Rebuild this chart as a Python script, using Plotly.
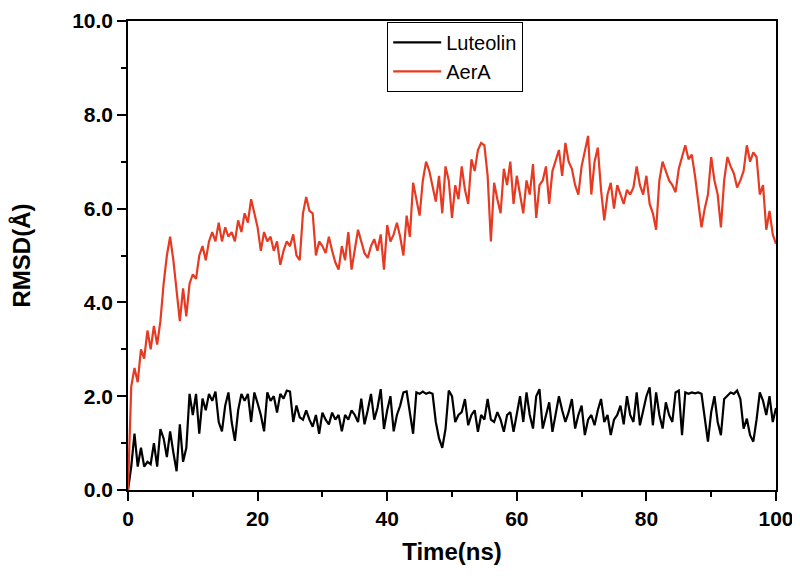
import numpy as np
import plotly.graph_objects as go

# RMSD values, one every 0.5 ns from 0 to 100 ns
aera_rmsd = [
    0.0, 2.2, 2.6, 2.3, 3.0, 2.8, 3.4, 3.0, 3.5, 3.1,
    3.6, 4.4, 5.0, 5.4, 4.9, 4.2, 3.6, 4.3, 3.7, 4.4,
    4.6, 4.5, 5.0, 5.2, 4.9, 5.3, 5.5, 5.3, 5.7, 5.3,
    5.6, 5.4, 5.5, 5.3, 5.75, 5.5, 5.9, 5.7, 6.2, 5.9,
    5.6, 5.1, 5.5, 5.3, 5.4, 5.1, 5.3, 4.8, 5.1, 5.3,
    5.2, 5.45, 5.0, 4.9, 5.9, 6.25, 5.95, 5.9, 5.0, 5.3,
    5.2, 5.05, 5.4, 5.1, 4.85, 4.7, 5.2, 4.9, 5.5, 4.7,
    5.1, 5.55, 5.3, 5.05, 4.95, 5.2, 5.35, 5.1, 5.45, 4.7,
    5.65, 5.3, 5.45, 5.7, 5.4, 5.0, 5.85, 5.4, 6.55, 6.2,
    5.85, 6.6, 7.0, 6.8, 6.5, 6.15, 6.7, 5.9, 6.9, 6.6,
    5.8, 6.5, 6.2, 6.9, 6.4, 6.1, 7.05, 6.8, 7.25, 7.4,
    7.35, 6.7, 5.3, 6.55, 6.2, 5.9, 6.85, 6.5, 7.0, 6.1,
    6.7, 6.3, 5.9, 6.6, 6.3, 6.95, 5.8, 6.5, 6.6, 6.9,
    6.1, 6.8, 7.05, 7.25, 6.7, 7.4, 7.0, 6.85, 6.5, 6.3,
    6.9, 7.2, 7.55, 6.3, 7.0, 7.3, 6.4, 5.75, 6.3, 6.55,
    6.0, 6.5, 6.3, 6.1, 6.4, 6.3, 6.45, 6.9, 6.5, 6.3,
    6.7, 6.1, 5.9, 5.55, 6.6, 7.0, 6.8, 6.6, 6.5, 6.35,
    6.85, 7.1, 7.35, 7.05, 7.15, 6.7, 6.2, 5.6, 6.0, 6.3,
    7.1, 6.6, 6.3, 5.6, 6.6, 7.1, 6.9, 6.75, 6.45, 6.6,
    6.8, 7.35, 7.0, 7.2, 7.1, 6.3, 6.5, 5.55, 5.95, 5.45,
    5.25,
]

luteolin_rmsd = [
    0.0, 0.5, 1.2, 0.5, 0.9, 0.5, 0.6, 0.55, 1.0, 0.5,
    1.3, 1.1, 0.7, 1.25, 0.8, 0.4, 1.4, 0.6, 0.9, 2.05,
    1.6, 2.05, 1.2, 1.95, 1.7, 2.05, 1.9, 2.1, 1.45, 1.25,
    1.8, 2.08, 1.45, 1.05, 1.7, 2.05, 1.9, 2.05, 1.45, 2.08,
    1.85, 1.6, 1.25, 2.08, 1.9, 2.0, 1.65, 2.05, 1.95, 2.12,
    2.1, 1.45, 1.8, 1.55, 1.5, 1.7, 1.5, 1.35, 1.6, 1.2,
    1.65, 1.5, 1.4, 1.65, 1.5, 1.6, 1.25, 1.6, 1.5, 1.7,
    1.6, 1.45, 1.95, 1.4, 1.7, 2.05, 1.5, 1.75, 2.15, 1.3,
    1.7, 2.0, 1.25, 1.6, 1.8, 2.08, 2.1, 1.6, 1.2, 2.08,
    2.05, 2.1, 2.05, 2.08, 2.05, 1.45, 1.1, 0.9, 1.3, 2.12,
    2.0, 1.45, 1.6, 1.66, 1.94, 1.38, 1.6, 1.7, 1.24, 1.6,
    1.5, 1.94, 1.5, 1.45, 1.66, 1.5, 1.24, 1.6, 1.66, 1.24,
    1.6, 2.0, 1.45, 2.08, 1.6, 1.31, 2.0, 2.15, 1.31, 1.6,
    1.87, 1.24, 1.6, 2.0, 1.7, 1.45, 1.66, 1.94, 1.31, 1.6,
    1.8, 1.17, 1.5, 1.6, 1.38, 1.7, 1.94, 1.45, 1.6, 1.17,
    1.5, 1.6, 1.8, 1.4, 2.0, 1.6, 1.45, 2.08, 1.38, 1.7,
    2.0, 2.19, 1.38, 2.08, 1.6, 1.31, 1.87, 1.6, 1.45, 2.08,
    2.12, 1.17, 2.08, 2.05, 2.08, 2.06, 2.08, 2.05, 1.5, 1.03,
    1.66, 2.0, 1.45, 1.17, 1.94, 2.0, 2.08, 2.05, 2.12, 1.94,
    1.31, 1.52, 1.17, 1.03, 1.5, 2.08, 1.9, 1.6, 2.0, 1.45,
    1.75,
]

time_ns = np.linspace(0, 100, len(aera_rmsd))
time_lut = np.linspace(0, 100, len(luteolin_rmsd))

FONT = "Liberation Sans, Arial, sans-serif"

fig = go.Figure()
fig.add_trace(go.Scatter(x=time_lut, y=luteolin_rmsd, mode="lines", name="Luteolin",
                         line=dict(color="black", width=2.2)))
fig.add_trace(go.Scatter(x=time_ns, y=aera_rmsd, mode="lines", name="AerA",
                         line=dict(color="#e63a22", width=2.2)))

axis_common = dict(
    showline=True, linecolor="black", linewidth=1.5, mirror=True,
    showgrid=False, zeroline=False, automargin=False,
    ticks="outside", ticklen=9, tickwidth=1.5, tickcolor="black",
    ticklabeloverflow="allow",
    tickfont=dict(family=FONT, size=21, color="black", weight="bold"),
)

fig.update_xaxes(
    range=[0, 100], tickvals=[0, 20, 40, 60, 80, 100],
    minor=dict(ticks="outside", dtick=10, ticklen=5, tickwidth=1.5, tickcolor="black"),
    title=dict(text="Time(ns)", font=dict(family=FONT, size=24, color="black", weight="bold"),
               standoff=14),
    **axis_common,
)
fig.update_yaxes(
    range=[0, 10], tickvals=[0, 2, 4, 6, 8, 10], tickformat=".1f",
    minor=dict(ticks="outside", dtick=1, ticklen=5, tickwidth=1.5, tickcolor="black"),
    title=dict(text="RMSD(Å)", font=dict(family=FONT, size=24, color="black", weight="bold"),
               standoff=44),
    **axis_common,
)

# the page body shifts the figure by about 8px, margins make up for it
fig.update_layout(
    width=800, height=580,
    template="plotly_white",
    plot_bgcolor="white", paper_bgcolor="white",
    margin=dict(l=120, r=32, t=13, b=98, autoexpand=False),
    legend=dict(x=0.40, y=0.998, xanchor="left", yanchor="top",
                bgcolor="white", bordercolor="black", borderwidth=1,
                tracegroupgap=0, itemwidth=48,
                font=dict(family=FONT, size=20, color="black")),
)

fig.write_html("out.html")
